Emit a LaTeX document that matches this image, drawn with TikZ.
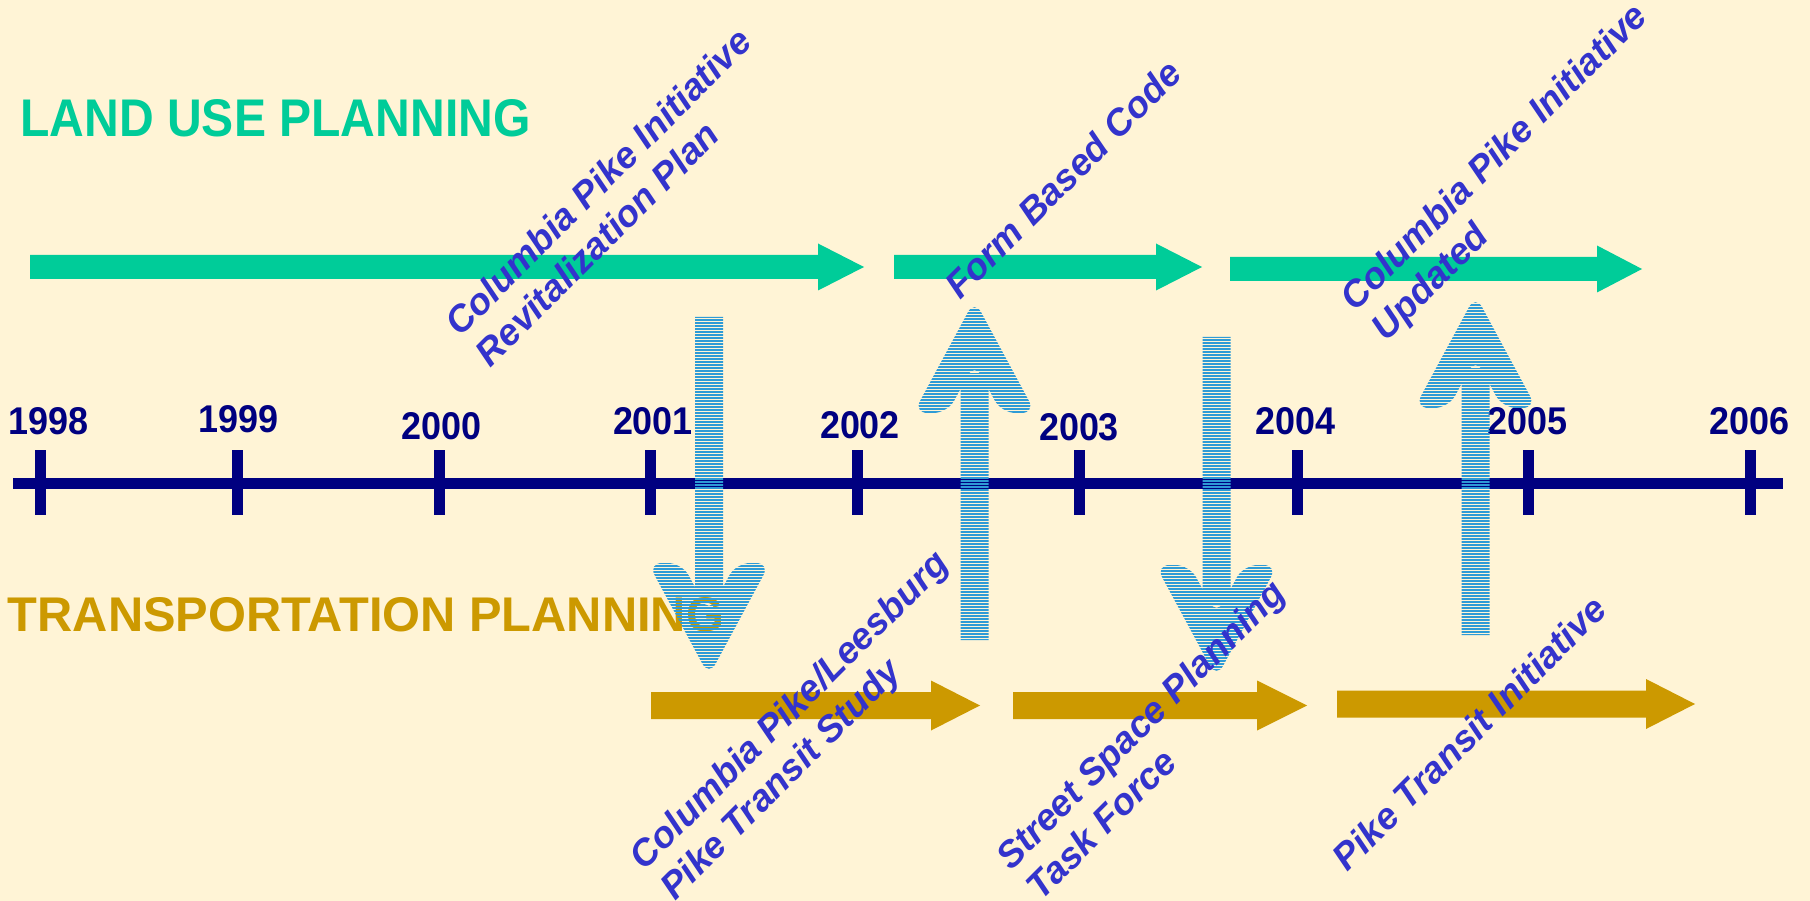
\documentclass[tikz,border=0pt]{standalone}
\usepackage{fontspec}
\setmainfont{Liberation Sans}
\usepackage{graphicx}
\definecolor{bg}{HTML}{FFF4D6}
\definecolor{landgreen}{HTML}{00CC99}
\definecolor{transgold}{HTML}{CC9900}
\definecolor{navyline}{HTML}{000080}
\definecolor{labelblue}{HTML}{3333CC}
\definecolor{hatchblue}{HTML}{2E9BD6}
\tikzset{
  timeline/.style={draw=navyline, line width=11pt},
  tickmark/.style={draw=navyline, line width=11pt},
  yearlabel/.style={text=navyline, font=\bfseries, inner sep=0pt},
  headlabel/.style={font=\bfseries, inner sep=0pt},
  eventlabel/.style={text=labelblue, font=\fontsize{37}{43}\selectfont\bfseries\itshape, rotate=45, align=left, inner sep=0pt},
  hatchline/.style={draw=hatchblue, line width=1.15pt},
}
% #1 colour, #2 x start, #3 x head base, #4 x tip, #5 y centre, #6 half body, #7 half head
\newcommand{\blockarrow}[7]{%
  \fill[#1] (#2,#5-#6) -- (#3,#5-#6) -- (#3,#5-#7) -- (#4,#5) -- (#3,#5+#7) -- (#3,#5+#6) -- (#2,#5+#6) -- cycle;}
% #1 cx, #2 tail y, #3 arm y, #4 direction (1 down, -1 up)
\newcommand{\hatcharrow}[4]{%
  \begin{scope}
    \clip (#1-14,#2) -- (#1+14,#2) -- (#1+14,{#3+(#4)*40}) -- (#1-14,{#3+(#4)*40}) -- cycle
      [rounded corners=14pt] (#1+27,#3) -- (#1+61,#3) -- (#1,{#3+(#4)*113}) -- (#1-61,#3) -- (#1-27,#3) -- (#1,{#3+(#4)*50}) -- cycle;
    \foreach \k in {0,...,130} \draw[hatchline] (#1-70,{#2+(#4)*(3*\k)}) -- (#1+70,{#2+(#4)*(3*\k)});
  \end{scope}}
\begin{document}
\begin{tikzpicture}[x=1pt,y=-1pt]
\useasboundingbox (0,0) rectangle (1810,901);
\fill[bg] (0,0) rectangle (1810,901);

% section headings
\node[headlabel, text=landgreen] (landuse) at (275.5,118.5) {\resizebox{510pt}{37pt}{LAND USE PLANNING}};
\node[headlabel, text=transgold] (transport) at (366,615) {\resizebox{716pt}{34pt}{TRANSPORTATION PLANNING}};

% land use arrows
\blockarrow{landgreen}{30}{818}{864}{267}{12}{23.5}
\blockarrow{landgreen}{894}{1156}{1202}{267}{12}{23.5}
\blockarrow{landgreen}{1230}{1597}{1642}{269}{12}{23.5}

% transportation arrows
\blockarrow{transgold}{651}{931}{980}{705.5}{13.5}{25}
\blockarrow{transgold}{1013}{1257}{1307}{705.5}{13.5}{25}
\blockarrow{transgold}{1337}{1646}{1695}{704}{13.5}{25}

% timeline
\coordinate (tlstart) at (13,483);
\coordinate (tlend) at (1783,483);
\draw[timeline] (tlstart) -- (tlend);
\foreach \x in {40.5,237,439,650.5,857,1079,1297.5,1528.5,1750}
  \draw[tickmark] (\x,450) -- (\x,515);

\node[yearlabel] (y1998) at (49,421) {\resizebox{80pt}{27pt}{1998}};
\node[yearlabel] (y1999) at (239,419) {\resizebox{80pt}{27pt}{1999}};
\node[yearlabel] (y2000) at (442,426) {\resizebox{80pt}{27pt}{2000}};
\node[yearlabel] (y2001) at (653,421.5) {\resizebox{80pt}{27pt}{2001}};
\node[yearlabel] (y2002) at (860,425) {\resizebox{80pt}{27pt}{2002}};
\node[yearlabel] (y2003) at (1079,427) {\resizebox{80pt}{27pt}{2003}};
\node[yearlabel] (y2004) at (1295,421) {\resizebox{80pt}{27pt}{2004}};
\node[yearlabel] (y2005) at (1527,421) {\resizebox{80pt}{27pt}{2005}};
\node[yearlabel] (y2006) at (1749,421) {\resizebox{80pt}{27pt}{2006}};

% hatched influence arrows
\hatcharrow{709}{317}{563}{1}
\hatcharrow{1216.5}{337}{565}{1}
\hatcharrow{974.5}{640}{413}{-1}
\hatcharrow{1475.5}{635}{408}{-1}

% event labels
\node[eventlabel] (ev1) at (613,197) {Columbia Pike Initiative\\Revitalization Plan};
\node[eventlabel] (ev2) at (1063,179) {Form Based Code};
\node[eventlabel] (ev3) at (1511,174) {Columbia Pike Initiative\\Updated};
\node[eventlabel] (ev4) at (806,727) {Columbia Pike/Leesburg\\Pike Transit Study};
\node[eventlabel] (ev5) at (1155,739) {Street Space Planning\\Task Force};
\node[eventlabel] (ev6) at (1469,733) {Pike Transit Initiative};
\end{tikzpicture}
\end{document}
